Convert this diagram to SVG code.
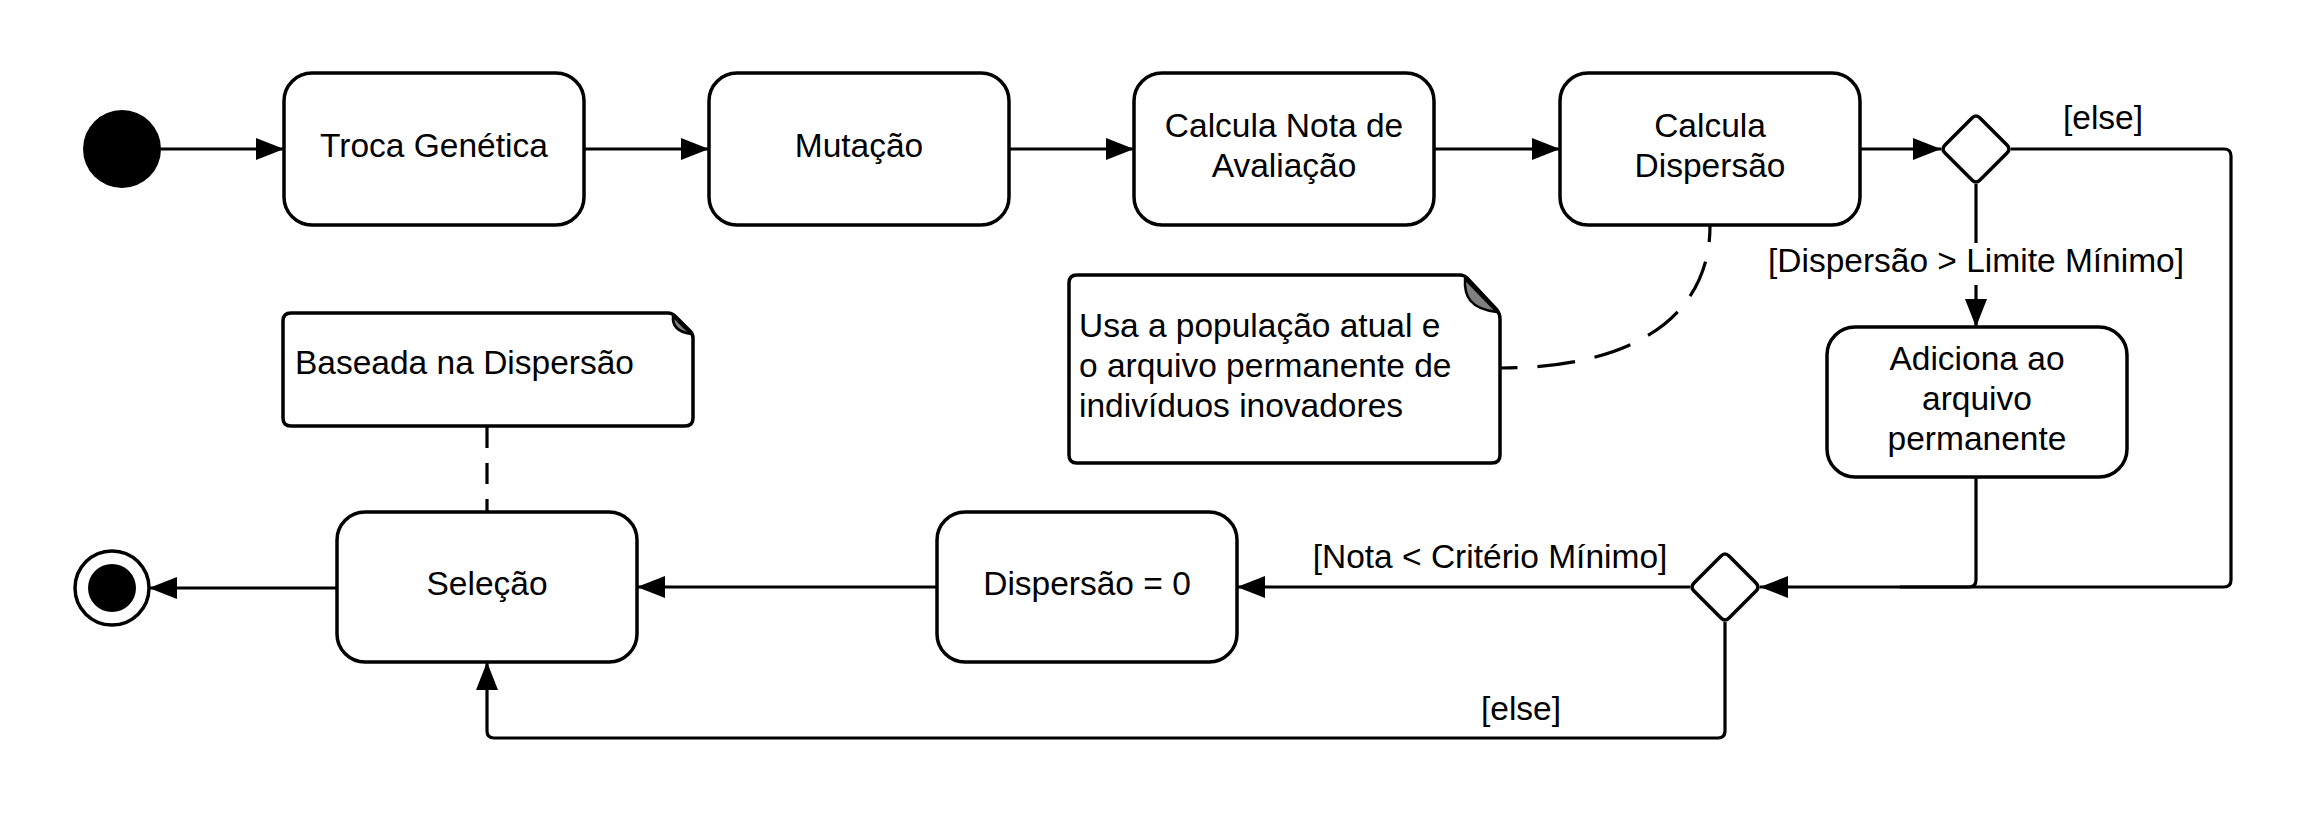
<svg xmlns="http://www.w3.org/2000/svg" width="2306" height="814" viewBox="0 0 2306 814">
<style>
.box{fill:#fff;stroke:#000;stroke-width:3.5}
.note{fill:#fff;stroke:#000;stroke-width:3.5;stroke-linejoin:round}
.fold{fill:#808080;stroke:#000;stroke-width:2.5;stroke-linejoin:round}
.ln{fill:none;stroke:#000;stroke-width:3.2}
.dash{fill:none;stroke:#000;stroke-width:3.2}
text{font-family:"Liberation Sans",Arial,sans-serif;font-size:33.5px;fill:#000}
.c{text-anchor:middle}
</style>
<defs>
<marker id="arr" markerUnits="userSpaceOnUse" markerWidth="30" markerHeight="24" refX="28" refY="11" orient="auto" viewBox="0 0 30 24">
<path d="M0,0 L28,11 L0,22 Z" fill="#000"/>
</marker>
</defs>
<rect width="2306" height="814" fill="#fff"/>
<g id="connectors">
<path class="ln" d="M161,149 H284" marker-end="url(#arr)"/>
<path class="ln" d="M584,149 H709" marker-end="url(#arr)"/>
<path class="ln" d="M1009,149 H1134" marker-end="url(#arr)"/>
<path class="ln" d="M1434,149 H1560" marker-end="url(#arr)"/>
<path class="ln" d="M1860,149 H1941" marker-end="url(#arr)"/>
<path class="ln" d="M1976,184 V243"/>
<path class="ln" d="M1976,285 V327" marker-end="url(#arr)"/>
<path class="ln" d="M2011,149 H2224 Q2231,149 2231,156 V580 Q2231,587 2224,587 H1760" marker-end="url(#arr)"/>
<path class="ln" d="M1976,477 V580 Q1976,587 1969,587 H1900"/>
<path class="ln" d="M1690,587 H1237" marker-end="url(#arr)"/>
<path class="ln" d="M937,587 H637" marker-end="url(#arr)"/>
<path class="ln" d="M1725,622 V731 Q1725,738 1718,738 H494 Q487,738 487,731 V662" marker-end="url(#arr)"/>
<path class="ln" d="M337,588 H149" marker-end="url(#arr)"/>
<path class="dash" d="M487,427 V512" stroke-dasharray="21 15"/>
<path class="dash" d="M1710,226 C1710,312 1640,368 1500,368" stroke-dasharray="16 20 38 20 38 20 38 20 38 20 38 20"/>
<text class="c" x="2103" y="129">[else]</text>
<text class="c" x="1976" y="272">[Dispersão &gt; Limite Mínimo]</text>
<text class="c" x="1490" y="568">[Nota &lt; Critério Mínimo]</text>
<text class="c" x="1521" y="720">[else]</text>
</g>
<g id="start"><circle cx="122" cy="149" r="39" fill="#000"/></g>
<g id="troca"><rect class="box" x="284" y="73" width="300" height="152" rx="28"/><text class="c" x="434" y="157">Troca Genética</text></g>
<g id="mutacao"><rect class="box" x="709" y="73" width="300" height="152" rx="28"/><text class="c" x="859" y="157">Mutação</text></g>
<g id="nota"><rect class="box" x="1134" y="73" width="300" height="152" rx="28"/><text class="c" x="1284" y="137">Calcula Nota de</text><text class="c" x="1284" y="177">Avaliação</text></g>
<g id="dispersao"><rect class="box" x="1560" y="73" width="300" height="152" rx="28"/><text class="c" x="1710" y="137">Calcula</text><text class="c" x="1710" y="177">Dispersão</text></g>
<g id="decision1"><path class="box" d="M1972,118 L1945,145 Q1941,149 1945,153 L1972,180 Q1976,184 1980,180 L2007,153 Q2011,149 2007,145 L1980,118 Q1976,114 1972,118 Z"/></g>
<g id="adiciona"><rect class="box" x="1827" y="327" width="300" height="150" rx="28"/><text class="c" x="1977" y="370">Adiciona ao</text><text class="c" x="1977" y="410">arquivo</text><text class="c" x="1977" y="450">permanente</text></g>
<g id="decision2"><path class="box" d="M1721,556 L1694,583 Q1690,587 1694,591 L1721,618 Q1725,622 1729,618 L1756,591 Q1760,587 1756,583 L1729,556 Q1725,552 1721,556 Z"/></g>
<g id="zero"><rect class="box" x="937" y="512" width="300" height="150" rx="28"/><text class="c" x="1087" y="595">Dispersão = 0</text></g>
<g id="selecao"><rect class="box" x="337" y="512" width="300" height="150" rx="28"/><text class="c" x="487" y="595">Seleção</text></g>
<g id="end"><circle cx="112" cy="588" r="37" fill="#fff" stroke="#000" stroke-width="3.5"/><circle cx="112" cy="588" r="24" fill="#000"/></g>
<g id="note1">
<path class="note" d="M1077,275 H1460 Q1464,275 1467,278 L1497,310 Q1500,314 1500,319 V455 Q1500,463 1492,463 H1077 Q1069,463 1069,455 V283 Q1069,275 1077,275 Z"/>
<path class="fold" d="M1465,279 C1464,296 1470,309 1497,312 Z"/>
<text x="1079" y="337">Usa a população atual e</text>
<text x="1079" y="377">o arquivo permanente de</text>
<text x="1079" y="417">indivíduos inovadores</text>
</g>
<g id="note2">
<path class="note" d="M291,313 H668 Q672,313 675,316 L690,331 Q693,334 693,338 V418 Q693,426 685,426 H291 Q283,426 283,418 V321 Q283,313 291,313 Z"/>
<path class="fold" d="M673,316 C672,326 678,332 691,334 Z"/>
<text x="295" y="374">Baseada na Dispersão</text>
</g>
</svg>
